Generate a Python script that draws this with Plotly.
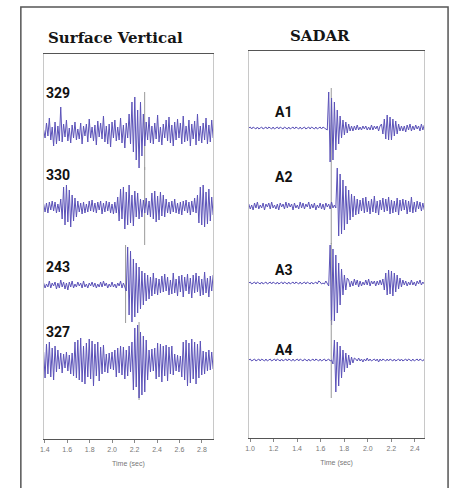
import numpy as np
import plotly.graph_objects as go

# ---------------- data ----------------
LEFT_NAMES = ["329", "330", "243", "327"]
RIGHT_NAMES = ["A1", "A2", "A3", "A4"]

LEFT_T0, LEFT_T1 = 1.39, 2.90     # recording window (s), surface vertical
RIGHT_T0, RIGHT_T1 = 0.99, 2.48   # recording window (s), SADAR

LEFT_TICKS = [1.4, 1.6, 1.8, 2.0, 2.2, 2.4, 2.6, 2.8]
RIGHT_TICKS = [1.0, 1.2, 1.4, 1.6, 1.8, 2.0, 2.2, 2.4]

# pick (onset marker) times, seconds
LEFT_PICKS = [2.29, 2.29, 2.12, 2.24]
RIGHT_PICKS = [1.69, 1.69, 1.69, 1.69]

TRACE_329 = [2,-6,9,-4,14,-8,5,-14,10,-12,
             6,-9,25,-10,8,-5,12,-9,4,-11,
             7,-6,10,-8,3,-7,9,-12,6,-4,
             8,-10,13,-6,5,-9,7,-13,11,-5,
             9,-7,16,-10,6,-12,8,-15,10,-6,
             12,-9,5,-8,14,-11,7,-16,9,-6,
             18,-12,30,-20,35,-28,22,-36,30,-24,
             18,-14,10,-8,15,-11,6,-12,9,-7,
             17,-10,5,-13,8,-6,12,-9,15,-11,
             7,-14,10,-8,13,-6,9,-12,16,-10,
             6,-9,12,-14,8,-7,11,-13,18,-9,
             6,-11,9,-8,14,-12,7,-10,12,-6]
TRACE_330 = [3,-5,4,-6,5,-3,6,-4,5,-6,
             3,-5,8,-12,20,-18,22,-15,17,-20,
             12,-14,9,-10,6,-5,4,-7,5,-6,
             3,-5,6,-4,7,-5,4,-6,5,-3,
             6,-7,4,-5,6,-4,5,-6,3,-7,
             5,-6,10,-14,18,-12,20,-22,15,-18,
             22,-16,12,-19,16,-10,14,-12,8,-10,
             7,-6,9,-8,6,-10,14,-12,16,-15,
             11,-13,15,-9,12,-10,8,-6,5,-7,
             6,-5,8,-6,4,-7,5,-8,6,-4,
             7,-6,5,-8,6,-5,9,-6,12,-16,
             20,-18,22,-20,15,-17,18,-14,10,-8]
TRACE_243 = [2,-3,1,-2,4,-3,2,-1,3,-4,
             2,-3,5,-2,3,-4,2,-5,3,-2,
             4,-3,1,-2,3,-1,2,-3,4,-2,
             1,-3,2,-1,3,-2,2,-3,1,-2,
             3,-2,4,-1,2,-3,1,-2,3,-2,
             1,-3,2,-1,4,-3,2,-2,-6,38,
             -30,34,-37,26,-32,22,-28,18,-24,14,
             -20,12,-16,10,-14,8,-11,12,-9,7,
             -10,6,-8,9,-7,11,-6,8,-10,5,
             -9,12,-8,6,-11,9,-7,10,-12,8,
             -6,11,-9,7,-13,10,-8,12,-7,9,
             -11,6,-10,13,-8,7,-12,9,-6,10]
TRACE_327 = [10,-16,18,-12,20,-15,14,-18,16,-10,
             12,-7,9,-11,8,-6,10,-9,7,-12,
             9,-14,20,-16,22,-18,24,-20,16,-22,
             19,-15,23,-17,21,-24,18,-14,20,-19,
             15,-12,17,-10,8,-11,9,-7,10,-8,
             12,-15,14,-11,16,-13,15,-17,12,-14,
             16,-10,20,-28,34,-25,37,-36,30,-33,
             26,-30,22,-18,12,-10,13,-9,14,-17,
             19,-15,18,-20,16,-14,17,-19,15,-12,
             16,-13,8,-9,7,-10,6,-15,20,-18,
             22,-24,19,-21,23,-17,20,-22,18,-16,
             21,-13,11,-12,10,-9,12,-8,10,-7]

TRACE_A1 = [0,1,-1,1,0,-1,1,-1,0,1,
            -1,0,1,-1,1,0,-1,1,-1,0,
            1,-1,1,0,-1,1,0,-1,1,-1,
            0,1,-1,1,0,-1,1,-1,0,1,
            -1,0,1,-1,1,0,-1,1,-1,0,
            1,-1,1,0,-1,-2,
            36,-34,30,-32,26,-22,18,-16,12,-10,8,-7,6,-5,4,-3,
            2,-3,2,-2,3,-2,1,-2,2,-1,2,-2,1,-2,3,-2,2,-1,2,-3,2,
            4,-6,9,-11,13,-12,11,-12,9,-8,7,-6,4,-3,2,
            -3,2,-4,3,-2,4,-3,2,-2,3,-1,2,-3,4,-2,3]
TRACE_A2 = [2,-3,1,-4,3,-2,4,-3,1,-2,
            3,-4,2,-1,3,-3,4,-2,1,-3,
            2,-4,3,-1,2,-3,4,-2,3,-1,
            2,-4,3,-2,1,-3,4,-2,3,-3,
            2,-1,4,-3,2,-2,3,-4,1,-2,
            3,-3,2,-4,3,-1,2,-3,4,-2,
            1,-2,
            38,-30,32,-28,26,-24,20,-18,16,-14,12,-11,10,-9,
            7,-8,6,-5,8,-7,9,-6,5,-8,
            7,-6,10,-7,5,-9,6,-4,8,-6,
            7,-5,9,-8,6,-7,5,-6,8,-9,
            6,-5,7,-4,6,-8,5,-6,9,-7,
            4,-6,5,-3,4,-5,3,-4]
TRACE_A3 = [0,1,-1,0,1,-1,1,0,-1,1,
            -1,0,1,-1,0,1,-1,1,0,-1,
            1,-1,0,1,-1,1,0,-1,1,-1,
            0,1,-1,1,0,-1,1,-1,0,1,
            -1,1,0,-1,1,-1,0,1,-1,2,
            1,-1,0,-1,2,-1,
            -3,38,-42,34,-38,28,-30,20,-22,14,-12,8,-7,5,
            3,-4,2,-3,4,-2,3,-4,2,-3,1,-2,3,-2,4,-3,2,-1,2,-3,2,-2,3,-2,
            4,-7,10,-12,13,-11,12,-13,10,-9,8,-6,5,-4,3,-2,
            2,-3,1,-2,3,-2,1,-3,2,-1,3,-2,1,-1]
TRACE_A4 = [0,1,-1,0,1,-1,0,1,-1,1,
            0,-1,1,-1,0,1,-1,0,1,-1,
            1,0,-1,1,-1,0,1,-1,1,0,
            -1,1,-1,0,1,-1,1,0,-1,1,
            0,-1,1,-1,0,1,-1,1,0,-1,
            1,-1,0,1,-1,0,1,-1,0,
            -4,20,-32,18,-26,14,-18,10,-12,7,-8,5,-5,3,-3,2,
            1,-1,2,-1,1,-2,1,-1,2,-1,
            1,-1,0,1,-1,1,-2,1,-1,1,
            0,-1,1,-1,1,0,-1,1,-1,0,
            1,-1,1,-1,0,1,-1,1,0,-1,
            1,-1,0,1,-1,1,0,-1,1]

LEFT_TRACES = [TRACE_329, TRACE_330, TRACE_243, TRACE_327]
RIGHT_TRACES = [TRACE_A1, TRACE_A2, TRACE_A3, TRACE_A4]

# ---------------- layout constants ----------------
W, H = 454, 488
LEFT_BASE = [307, 232, 154, 77]     # trace baselines in panel units
RIGHT_BASE = [310, 232, 155, 78]
LEFT_LABEL_Y = [93, 175, 267, 332]  # label centres, px from top
RIGHT_LABEL_Y = [112, 177, 270, 350]
TRACE_COLOR = "#5b52b8"
PICK_COLOR = "#9a9a9a"

def px(x):
    return x / W

def py(y):
    return 1 - y / H

fig = go.Figure()

def add_panel(traces, bases, picks, t0, t1, xa, ya):
    for vals, base, pick in zip(traces, bases, picks):
        n = len(vals)
        t = t0 + (t1 - t0) * np.arange(n) / (n - 1)
        fig.add_trace(go.Scatter(x=[pick, pick], y=[base - 38, base + 40],
                                 mode="lines", line=dict(color=PICK_COLOR, width=1),
                                 xaxis=xa, yaxis=ya, hoverinfo="skip", showlegend=False))
        fig.add_trace(go.Scatter(x=t, y=base + np.array(vals, dtype=float),
                                 mode="lines", line=dict(color=TRACE_COLOR, width=1),
                                 xaxis=xa, yaxis=ya, showlegend=False))

add_panel(LEFT_TRACES, LEFT_BASE, LEFT_PICKS, LEFT_T0, LEFT_T1, "x", "y")
add_panel(RIGHT_TRACES, RIGHT_BASE, RIGHT_PICKS, RIGHT_T0, RIGHT_T1, "x2", "y2")

tickfont = dict(family="Liberation Sans Narrow, Liberation Sans, Arial", size=7, color="#777")
xcommon = dict(showline=True, mirror=True, linecolor="#555", linewidth=1.2,
               showgrid=False, zeroline=False, ticks="outside", ticklen=3,
               tickcolor="#888", tickwidth=1, tickfont=tickfont, tickformat=".1f",
               title=dict(text="Time (sec)", font=dict(family="Liberation Sans Narrow, Liberation Sans", size=7, color="#777"), standoff=9))
ycommon = dict(showline=True, mirror=True, linecolor="#c8c8c8", linewidth=1,
               showgrid=False, zeroline=False, showticklabels=False, ticks="")

fig.update_layout(
    width=W, height=H, margin=dict(l=0, r=0, t=0, b=0),
    paper_bgcolor="white", plot_bgcolor="white",
    xaxis=dict(domain=[px(40), px(211)], range=[LEFT_T0, LEFT_T1], tickvals=LEFT_TICKS, anchor="y", **xcommon),
    yaxis=dict(domain=[py(439), py(54)], range=[0, 385], anchor="x", **ycommon),
    xaxis2=dict(domain=[px(247), px(424)], range=[RIGHT_T0, RIGHT_T1], tickvals=RIGHT_TICKS, anchor="y2", **xcommon),
    yaxis2=dict(domain=[py(438), py(51)], range=[0, 387], anchor="x2", **ycommon),
)

# outer frame
fig.add_shape(type="rect", xref="paper", yref="paper",
              x0=px(17), y0=py(489), x1=px(448), y1=py(7),
              line=dict(color="#555", width=1.5))

title_font = dict(family="DejaVu Serif", size=15, color="#151515")
fig.add_annotation(text="<b>Surface Vertical</b>", x=px(112), y=py(38), xref="paper", yref="paper",
                   showarrow=False, xanchor="center", yanchor="middle", font=title_font)
fig.add_annotation(text="<b>SADAR</b>", x=px(319), y=py(36), xref="paper", yref="paper",
                   showarrow=False, xanchor="center", yanchor="middle", font=title_font)

label_font = dict(family="Roboto, Arial", size=14, color="#111")
for name, y in zip(LEFT_NAMES, LEFT_LABEL_Y):
    fig.add_annotation(text=f"<b>{name}</b>", x=px(40), y=py(y), xref="paper", yref="paper",
                       showarrow=False, xanchor="left", yanchor="middle", font=label_font)
for name, y in zip(RIGHT_NAMES, RIGHT_LABEL_Y):
    fig.add_annotation(text=f"<b>{name}</b>", x=px(271), y=py(y), xref="paper", yref="paper",
                       showarrow=False, xanchor="left", yanchor="middle", font=label_font)

fig.write_html("out.html")
